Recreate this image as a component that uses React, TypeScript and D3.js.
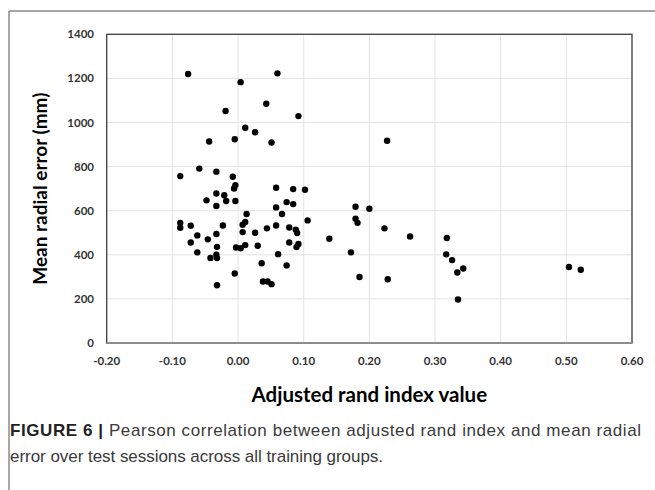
import React from "react";
import * as d3 from "d3";

const ariValues: number[] = [
  -0.076, 0.060, 0.004, 0.043, -0.019, 0.092, 0.011, 0.026, -0.044, -0.005,
  0.051, -0.088, -0.059, -0.033, -0.008, -0.004, -0.006, 0.058, 0.084, 0.102,
  -0.033, -0.021, -0.048, -0.018, -0.004, -0.033, 0.074, 0.084, 0.058, 0.067,
  0.013, 0.106, -0.088, -0.088, -0.072, -0.023, 0.011, 0.007, 0.044, 0.058,
  0.078, 0.088, 0.090, 0.007, 0.026, -0.062, -0.033, -0.046, -0.072, 0.139,
  0.078, 0.092, 0.089, 0.030, 0.011, -0.032, -0.003, 0.004, -0.062, 0.061,
  -0.042, -0.033, -0.032, 0.036, 0.074, -0.005, 0.038, 0.045, 0.051, -0.032,
  0.227, 0.179, 0.200, 0.179, 0.182, 0.223, 0.262, 0.318, 0.172, 0.317,
  0.326, 0.343, 0.334, 0.185, 0.228, 0.335, 0.504, 0.522,
];

const radialErrors: number[] = [
  1220, 1223, 1183, 1085, 1052, 1029, 976, 956, 914, 924,
  909, 757, 791, 777, 754, 716, 701, 704, 698, 695,
  678, 670, 647, 644, 644, 621, 639, 630, 615, 585,
  585, 556, 545, 523, 532, 533, 549, 536, 520, 533,
  524, 514, 499, 503, 500, 488, 494, 470, 456, 473,
  456, 449, 435, 441, 444, 436, 433, 430, 411, 403,
  386, 400, 385, 362, 352, 315, 279, 279, 267, 262,
  917, 618, 609, 564, 545, 520, 483, 476, 411, 402,
  376, 338, 320, 299, 289, 197, 345, 332,
];

const xTicks: number[] = [-0.2, -0.1, 0, 0.1, 0.2, 0.3, 0.4, 0.5, 0.6];
const yTicks: number[] = [0, 200, 400, 600, 800, 1000, 1200, 1400];

const xTitle = "Adjusted rand index value";
const yTitle = "Mean radial error (mm)";
const captionBold = "FIGURE 6 | ";
const captionLine1 = "Pearson correlation between adjusted rand index and mean radial";
const captionLine2 = "error over test sessions across all training groups.";

export default function App() {
  const W = 655;
  const H = 490;
  const left = 106.7;
  const right = 632;
  const top = 34.3;
  const bottom = 343;

  const x = d3.scaleLinear().domain([-0.2, 0.6]).range([left, right]);
  const y = d3.scaleLinear().domain([0, 1400]).range([bottom, top]);

  const chartFont = "Lato, 'DejaVu Sans', sans-serif";
  const capFont = "'Liberation Sans', Arial, sans-serif";
  const fmt = (t: number) => d3.format(".2f")(t).replace("\u2212", "-");

  const points = ariValues.map((v, i) => ({ x: v, y: radialErrors[i] }));

  return (
    <svg
      width={W}
      height={H}
      style={{ position: "absolute", left: 0, top: 0, background: "#fff" }}
    >
      <rect x={0} y={0} width={W} height={H} fill="#fff" />
      {/* outer frame */}
      <line x1={9} y1={11} x2={W} y2={11} stroke="#8a8a8a" strokeWidth={1.5} />
      <line x1={9} y1={11} x2={9} y2={H} stroke="#8a8a8a" strokeWidth={1.5} />

      {/* gridlines */}
      {xTicks.map((t) => (
        <line
          key={"gx" + t}
          x1={x(t)}
          x2={x(t)}
          y1={top}
          y2={bottom}
          stroke="#e3e3e3"
          strokeWidth={1}
        />
      ))}
      {yTicks.map((t) => (
        <line
          key={"gy" + t}
          x1={left}
          x2={right}
          y1={y(t)}
          y2={y(t)}
          stroke="#e3e3e3"
          strokeWidth={1}
        />
      ))}

      {/* plot frame */}
      <rect
        x={left}
        y={top}
        width={right - left}
        height={bottom - top}
        fill="none"
        stroke="#404040"
        strokeWidth={1.3}
      />
      <line x1={left} x2={right} y1={bottom} y2={bottom} stroke="#8c8c8c" strokeWidth={2} />

      {/* y tick labels */}
      {yTicks.map((t) => (
        <text
          key={"yl" + t}
          x={94}
          y={y(t) + 4}
          textAnchor="end"
          fontFamily={chartFont}
          fontWeight="bold"
          fontSize={11.5}
          fill="#333"
        >
          {t}
        </text>
      ))}

      {/* x tick labels */}
      {xTicks.map((t) => (
        <text
          key={"xl" + t}
          x={x(t)}
          y={365}
          textAnchor="middle"
          fontFamily={chartFont}
          fontWeight="bold"
          fontSize={11.5}
          fill="#333"
        >
          {fmt(t)}
        </text>
      ))}

      {/* axis titles */}
      <text
        x={(left + right) / 2}
        y={401.5}
        textAnchor="middle"
        fontFamily={chartFont}
        fontWeight="bold"
        fontSize={20.5}
        fill="#000"
      >
        {xTitle}
      </text>
      <text
        transform={`translate(47, ${(top + bottom) / 2}) rotate(-90)`}
        textAnchor="middle"
        fontFamily={chartFont}
        fontWeight="bold"
        fontSize={19}
        fill="#000"
      >
        {yTitle}
      </text>

      {/* points */}
      {points.map((p, i) => (
        <circle key={i} cx={x(p.x)} cy={y(p.y)} r={3.2} fill="#000" />
      ))}

      {/* caption */}
      <text
        x={10}
        y={436}
        fontFamily={capFont}
        fontSize={17}
        fill="#3a3a3a"
        textLength={631}
        lengthAdjust="spacing"
      >
        <tspan fontWeight="bold" fill="#222">
          {captionBold}
        </tspan>
        {captionLine1}
      </text>
      <text
        x={10}
        y={462}
        fontFamily={capFont}
        fontSize={17}
        fill="#3a3a3a"
        textLength={373}
        lengthAdjust="spacing"
      >
        {captionLine2}
      </text>
    </svg>
  );
}
